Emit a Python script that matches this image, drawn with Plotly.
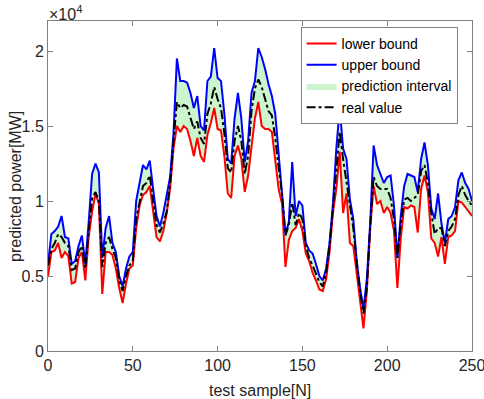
import plotly.graph_objects as go

# test sample index
samples = list(range(0, 251, 2))

# values in units of 1e4 MW
real_value = [0.57, 0.68, 0.72, 0.78, 0.76, 0.72, 0.70, 0.54, 0.55, 0.66,
              0.70, 0.55, 0.80, 1.02, 1.06, 1.00, 0.56, 0.72, 0.76, 0.68,
              0.62, 0.47, 0.40, 0.50, 0.57, 0.60, 0.88, 1.00, 1.10, 1.12,
              1.17, 1.00, 0.84, 0.79, 0.85, 0.93, 1.12, 1.40, 1.66, 1.62,
              1.64, 1.63, 1.55, 1.48, 1.53, 1.42, 1.38, 1.58, 1.65, 1.76,
              1.68, 1.62, 1.45, 1.22, 1.19, 1.40, 1.50, 1.40, 1.18, 1.30,
              1.60, 1.75, 1.81, 1.76, 1.68, 1.60, 1.57, 1.42, 1.22, 1.05,
              0.77, 0.84, 0.99, 0.84, 0.92, 0.88, 0.70, 0.62, 0.57, 0.52,
              0.46, 0.43, 0.52, 0.70, 0.95, 1.22, 1.46, 1.28, 1.12, 0.96,
              0.82, 0.60, 0.40, 0.25, 0.42, 0.84, 1.16, 1.10, 1.08, 1.08,
              1.08, 1.02, 0.88, 0.62, 0.85, 1.01, 1.02, 1.00, 1.02, 1.04,
              1.20, 1.24, 1.12, 0.92, 0.78, 0.82, 0.82, 0.70, 0.80, 0.83,
              0.88, 1.04, 1.10, 1.04, 1.00, 0.97]

upper_bound = [0.58, 0.78, 0.80, 0.83, 0.90, 0.76, 0.75, 0.58, 0.60, 0.70,
               0.77, 0.58, 0.86, 1.18, 1.25, 1.19, 0.62, 0.82, 0.90, 0.72,
               0.66, 0.50, 0.43, 0.55, 0.63, 0.66, 1.00, 1.12, 1.24, 1.21,
               1.27, 1.08, 0.90, 0.83, 0.92, 1.04, 1.16, 1.45, 1.95, 1.80,
               1.80, 1.79, 1.72, 1.62, 1.70, 1.50, 1.47, 1.80, 1.83, 2.02,
               1.82, 1.80, 1.58, 1.28, 1.25, 1.55, 1.72, 1.55, 1.26, 1.40,
               1.72, 1.80, 2.02, 1.96, 1.88, 1.78, 1.70, 1.58, 1.32, 1.08,
               0.78, 0.86, 1.26, 0.90, 1.00, 0.97, 0.72, 0.67, 0.65, 0.58,
               0.50, 0.47, 0.55, 0.72, 0.98, 1.35, 1.62, 1.35, 1.28, 1.01,
               0.88, 0.60, 0.42, 0.28, 0.48, 0.86, 1.37, 1.24, 1.18, 1.12,
               1.16, 1.17, 0.97, 0.62, 0.90, 1.10, 1.18, 1.17, 1.16, 1.06,
               1.28, 1.39, 1.24, 0.95, 0.88, 1.05, 0.85, 0.72, 0.88, 0.90,
               0.96, 1.14, 1.19, 1.12, 1.08, 1.00]

lower_bound = [0.50, 0.66, 0.67, 0.72, 0.62, 0.66, 0.63, 0.45, 0.46, 0.62,
               0.66, 0.47, 0.76, 0.93, 1.05, 0.98, 0.38, 0.66, 0.66, 0.64,
               0.55, 0.42, 0.32, 0.45, 0.55, 0.57, 0.82, 0.97, 1.04, 1.06,
               1.10, 0.92, 0.76, 0.73, 0.80, 0.92, 1.08, 1.35, 1.50, 1.46,
               1.50, 1.48, 1.40, 1.30, 1.42, 1.30, 1.26, 1.44, 1.52, 1.62,
               1.48, 1.47, 1.30, 1.05, 1.02, 1.30, 1.37, 1.28, 1.06, 1.17,
               1.38, 1.55, 1.66, 1.50, 1.48, 1.48, 1.46, 1.25, 1.08, 0.98,
               0.56, 0.74, 0.80, 0.82, 0.88, 0.80, 0.65, 0.60, 0.52, 0.47,
               0.41, 0.40, 0.48, 0.66, 0.92, 1.08, 1.33, 0.92, 1.05, 0.72,
               0.70, 0.52, 0.32, 0.15, 0.40, 0.82, 1.10, 0.98, 1.00, 0.92,
               0.96, 0.92, 0.80, 0.42, 0.75, 0.96, 0.95, 0.97, 0.96, 0.79,
               1.08, 1.17, 1.06, 0.75, 0.72, 0.63, 0.76, 0.58, 0.76, 0.77,
               0.80, 1.00, 0.99, 0.96, 0.93, 0.90]

x_ticks = [0, 50, 100, 150, 200, 250]
y_ticks = [0, 0.5, 1, 1.5, 2]
y_tick_labels = ["0", "0.5", "1", "1.5", "2"]

FONT = "Liberation Sans, Arial, sans-serif"
TXT = "#262626"

fig = go.Figure()

# base of fill (hidden)
fig.add_trace(go.Scatter(x=samples, y=lower_bound, mode="lines",
                         line=dict(width=0, color="rgba(0,0,0,0)"),
                         showlegend=False, hoverinfo="skip"))
fig.add_trace(go.Scatter(x=samples, y=upper_bound, mode="lines",
                         line=dict(width=0, color="rgba(0,0,0,0)"),
                         fill="tonexty", fillcolor="rgb(204,245,206)",
                         name="prediction interval", legendrank=3))
fig.add_trace(go.Scatter(x=samples, y=lower_bound, mode="lines",
                         line=dict(color="#ff0000", width=2),
                         name="lower bound", legendrank=1))
fig.add_trace(go.Scatter(x=samples, y=upper_bound, mode="lines",
                         line=dict(color="#0000ff", width=2),
                         name="upper bound", legendrank=2))
fig.add_trace(go.Scatter(x=samples, y=real_value, mode="lines",
                         line=dict(color="#000000", width=2, dash="dashdot"),
                         name="real value", legendrank=4))

axis_common = dict(showline=True, linecolor="#808080", linewidth=1,
                   mirror="ticks", ticks="inside", ticklen=5,
                   tickcolor="#808080", showgrid=False, zeroline=False,
                   automargin=False, ticklabeloverflow="allow",
                   tickfont=dict(family=FONT, size=16, color=TXT))

fig.update_xaxes(range=[0, 250], tickvals=x_ticks, **axis_common)
fig.update_yaxes(range=[0, 2.2], tickvals=y_ticks, ticktext=y_tick_labels,
                 **axis_common)

# axis titles
fig.add_annotation(xref="paper", yref="paper", x=0.5, y=-0.088,
                   xanchor="center", yanchor="top", showarrow=False,
                   text="test sample[N]",
                   font=dict(family=FONT, size=16, color=TXT))
fig.add_annotation(xref="paper", yref="paper", x=-0.078, y=0.5,
                   xanchor="center", yanchor="middle", showarrow=False,
                   textangle=-90, text="predicted power[MW]",
                   font=dict(family=FONT, size=16, color=TXT))

fig.add_annotation(xref="paper", yref="paper", x=-0.002, y=1.0,
                   xanchor="left", yanchor="bottom", yshift=-4,
                   showarrow=False,
                   text="×10<sup>4</sup>",
                   font=dict(family=FONT, size=16, color=TXT))

fig.update_layout(
    width=484, height=399,
    margin=dict(l=48, r=12, t=21, b=48),
    plot_bgcolor="white", paper_bgcolor="white",
    legend=dict(x=0.966, y=0.982, xanchor="right", yanchor="top",
                traceorder="normal",
                bgcolor="white", bordercolor="#808080", borderwidth=1,
                font=dict(family=FONT, size=14, color="#000000"),
                tracegroupgap=0, itemwidth=30),
)

# remove the browser's default 8 px body margin so the figure fills the window
fig.write_html("out.html", config={"displayModeBar": False},
               post_script="document.body.style.margin='0';")
